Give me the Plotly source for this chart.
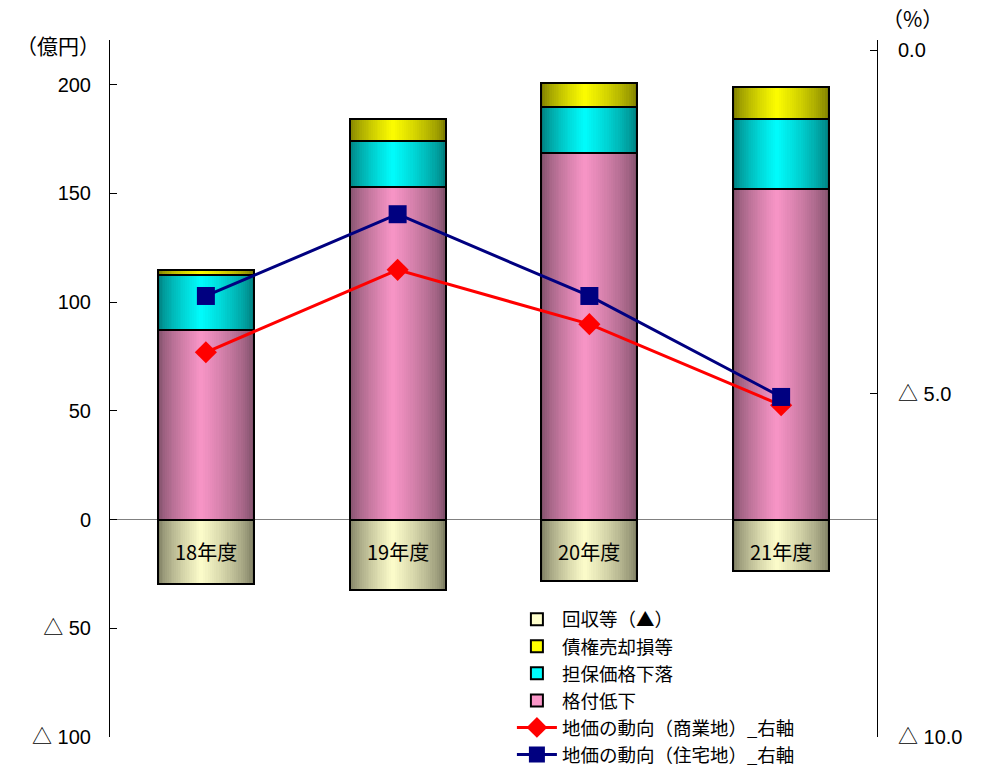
import plotly.graph_objects as go

categories = ["18年度", "19年度", "20年度", "21年度"]
rating_down = [87.2, 152.8, 168.7, 151.9]      # 格付低下
collateral_down = [25.2, 21.4, 21.0, 32.2]     # 担保価格下落
loan_sale_loss = [2.5, 10.1, 11.2, 14.8]       # 債権売却損等
recovery = [-29.6, -32.4, -28.4, -23.8]        # 回収等(▲)
land_commercial = [-4.40, -3.20, -3.99, -5.17] # 地価の動向(商業地)
land_residential = [-3.58, -2.39, -3.58, -5.05]  # 地価の動向(住宅地)

left_ticks = [-100, -50, 0, 50, 100, 150, 200]
left_ticktext = ["△ 100", "△ 50", "0", "50", "100", "150", "200"]
right_ticks = [0, -5, -10]
right_ticktext = ["0.0", "△ 5.0", "△ 10.0"]

FONT = "Liberation Sans, Noto Sans CJK JP, sans-serif"
JFONT = "Noto Sans CJK JP, sans-serif"

W = 0.5
N = 24
PEAK = 0.45

fig = go.Figure()

def mix(edge, center, t):
    return "rgb(%d,%d,%d)" % tuple(round(e + (c - e) * t) for e, c in zip(edge, center))

base_cum1 = [0, 0, 0, 0]
base_cum2 = rating_down
base_cum3 = [a + b for a, b in zip(rating_down, collateral_down)]

segments = [
    ("回収等（▲）", recovery, [0, 0, 0, 0], (125, 125, 98), (255, 255, 204), 1),
    ("債権売却損等", loan_sale_loss, base_cum3, (125, 125, 0), (255, 255, 0), 2),
    ("担保価格下落", collateral_down, base_cum2, (0, 125, 125), (0, 255, 255), 3),
    ("格付低下", rating_down, base_cum1, (128, 80, 106), (250, 150, 200), 4),
]

for name, vals, base, edge, center, rank in segments:
    fig.add_trace(go.Bar(
        x=categories, y=vals, base=base, width=W, offset=-W / 2,
        marker=dict(color=mix(edge, center, 1.0), line=dict(color="black", width=2)),
        name=name, legendrank=rank, showlegend=True, hoverinfo="skip"))
    for k in range(N):
        t = k / N
        left = PEAK * t
        right = 1 - (1 - PEAK) * t
        shade = t ** 0.7
        fig.add_trace(go.Bar(
            x=categories, y=vals, base=base, width=W * (right - left),
            offset=-W / 2 + W * left,
            marker=dict(color=mix(edge, center, shade), line=dict(width=0)),
            showlegend=False, hoverinfo="skip"))
    fig.add_trace(go.Bar(
        x=categories, y=vals, base=base, width=W, offset=-W / 2,
        marker=dict(color="rgba(0,0,0,0)", line=dict(color="black", width=2)),
        showlegend=False, hoverinfo="skip"))

fig.add_trace(go.Scatter(
    x=categories, y=land_commercial, yaxis="y2", mode="lines+markers",
    name="地価の動向（商業地）_右軸", legendrank=5,
    line=dict(color="#FF0000", width=3),
    marker=dict(symbol="diamond", size=17, color="#FF0000")))
fig.add_trace(go.Scatter(
    x=categories, y=land_residential, yaxis="y2", mode="lines+markers",
    name="地価の動向（住宅地）_右軸", legendrank=6,
    line=dict(color="#000080", width=3),
    marker=dict(symbol="square", size=18, color="#000080")))

for c in categories:
    fig.add_annotation(x=c, y=-14.7, xref="x", yref="y", text=c, showarrow=False,
                       font=dict(family=JFONT, size=20, color="black"))

fig.add_annotation(x=-0.068, y=0.993, xref="paper", yref="paper", text="（億円）",
                   xanchor="center", yanchor="middle",
                   showarrow=False, font=dict(family=JFONT, size=21, color="black"))
fig.add_annotation(x=1.0457, y=1.0316, xref="paper", yref="paper", text="（%）",
                   xanchor="center", yanchor="middle",
                   showarrow=False, font=dict(family=JFONT, size=21, color="black"))

fig.update_layout(
    width=990, height=771,
    margin=dict(l=110, r=113, t=40, b=34, autoexpand=False),
    paper_bgcolor="white", plot_bgcolor="white",
    barmode="overlay", bargap=0,
    font=dict(family=FONT, size=20, color="black"),
    xaxis=dict(type="category", range=[-0.5, 3.5], showticklabels=False,
               showline=False, showgrid=False, zeroline=False, ticks="",
               automargin=False),
    yaxis=dict(range=[-100, 220.5], tickvals=left_ticks, ticktext=left_ticktext,
               ticks="inside", ticklen=7, tickcolor="black", showline=True,
               linecolor="black", linewidth=1, showgrid=False, zeroline=True,
               zerolinecolor="#808080", zerolinewidth=1, ticklabelstandoff=14,
               tickfont=dict(family=FONT, size=20), automargin=False),
    yaxis2=dict(overlaying="y", side="right", range=[-10, 0.146],
                tickvals=right_ticks, ticktext=right_ticktext,
                ticks="inside", ticklen=7, tickcolor="black", showline=True,
                linecolor="black", linewidth=1, showgrid=False, zeroline=False,
                ticklabelstandoff=16, tickfont=dict(family=FONT, size=20),
                automargin=False),
    legend=dict(x=0.524, y=0.1955, xanchor="left", yanchor="top",
                bgcolor="rgba(0,0,0,0)", font=dict(family=JFONT, size=18.5),
                traceorder="normal", tracegroupgap=0, itemwidth=40),
    showlegend=True,
)

fig.write_html("out.html")
